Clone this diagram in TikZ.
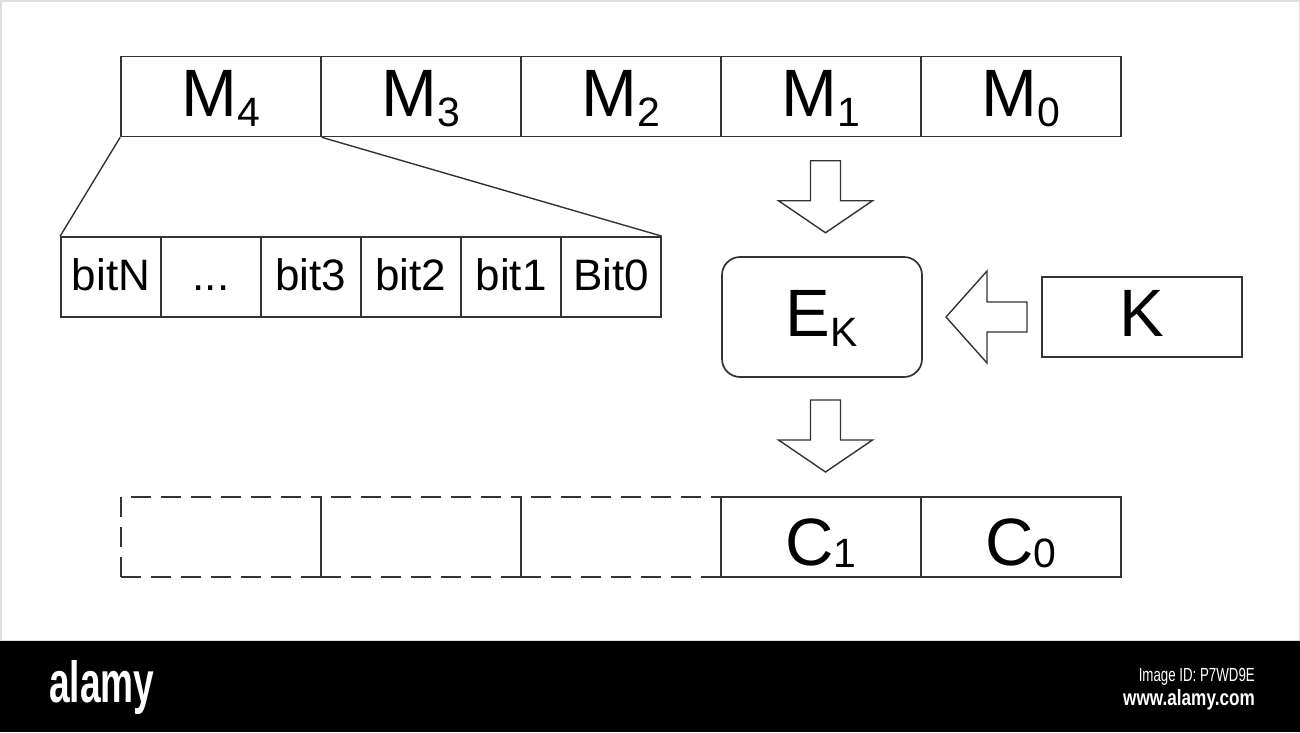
\documentclass[tikz,border=0pt]{standalone}
\usepackage{fontspec}
\setmainfont{Liberation Sans}
\usetikzlibrary{calc}
\definecolor{linecol}{gray}{0.2}
\newcommand{\bigfont}{\fontsize{67}{70}\selectfont}
\newcommand{\subfont}{\fontsize{41}{41}\selectfont}
\newcommand{\bitfont}{\fontsize{44}{46}\selectfont}
\newcommand{\lbl}[3]{#1\raisebox{#3}{\subfont #2}}
\begin{document}
\begin{tikzpicture}[x=1pt,y=-1pt,
  cell/.style={draw=linecol, line width=1.7pt, minimum width=200pt, minimum height=80pt,
    inner sep=0pt, font=\bigfont, text height=48pt, text depth=9pt},
  ccell/.style={cell, text height=58pt, text depth=2pt},
  dcell/.style={cell, dash pattern=on 20pt off 10pt},
  bitcell/.style={draw=linecol, line width=1.7pt, minimum width=100pt, minimum height=80pt,
    inner sep=0pt, font=\bitfont, text height=34pt, text depth=8pt},
  fan/.style={draw=linecol, line width=1.4pt},
  blockarrow/.style={draw=linecol, line width=1.4pt, fill=white, line join=miter},
  wm/.style={text=white, inner sep=0pt}
]
\useasboundingbox (0,0) rectangle (1300,732);
\fill[white] (0,0) rectangle (1300,641);
\draw[gray!25, line width=1.5pt] (0.75,0.75) rectangle (1299.25,641);
\fill[black] (0,641) rectangle (1300,732);

% top row
\node[cell] (M4) at (221,96.5) {\lbl{M}{4}{-10pt}};
\node[cell] (M3) at (421,96.5) {\lbl{M}{3}{-10pt}};
\node[cell] (M2) at (621,96.5) {\lbl{M}{2}{-10pt}};
\node[cell] (M1) at (821,96.5) {\lbl{M}{1}{-10pt}};
\node[cell] (M0) at (1021,96.5) {\lbl{M}{0}{-10pt}};

% bit row
\node[bitcell] (bN) at (111,277) {bitN};
\node[bitcell] (bd) at (211,277) {...};
\node[bitcell] (b3) at (311,277) {bit3};
\node[bitcell] (b2) at (411,277) {bit2};
\node[bitcell] (b1) at (511,277) {bit1};
\node[bitcell] (b0) at (611,277) {Bit0};

\draw[fan] (M4.south west) -- (bN.north west);
\draw[fan] (M4.south east) -- (b0.north east);

% encryption
\node[cell, minimum height=120pt, rounded corners=18pt] (Ek) at (822,317) {\lbl{E}{K}{-10pt}};
\node[cell] (K) at (1142,317) {K};

% bottom row
\node[dcell] (D2) at (221,537) {};
\node[dcell] (D1) at (421,537) {};
\node[dcell] (D0) at (621,537) {};
\node[ccell] (C1) at (821,537) {\lbl{C}{1}{-2pt}};
\node[ccell] (C0) at (1021,537) {\lbl{C}{0}{-2pt}};

% block arrows
\coordinate (a1) at ($(M1.south)!0.5!(Ek.north)+(4,0)$);
\draw[blockarrow] ($(a1)+(-15,-36)$) -- ($(a1)+(15,-36)$) -- ($(a1)+(15,4)$) -- ($(a1)+(47,4)$)
  -- ($(a1)+(0,36)$) -- ($(a1)+(-47,4)$) -- ($(a1)+(-15,4)$) -- cycle;
\coordinate (a2) at ($(Ek.south)!0.5!(C1.north)+(4,0)$);
\draw[blockarrow] ($(a2)+(-15,-37)$) -- ($(a2)+(15,-37)$) -- ($(a2)+(15,3)$) -- ($(a2)+(47,3)$)
  -- ($(a2)+(0,35)$) -- ($(a2)+(-47,3)$) -- ($(a2)+(-15,3)$) -- cycle;
\coordinate (a3) at ($(K.west)!0.5!(Ek.east)$);
\draw[blockarrow] ($(a3)+(45,-15)$) -- ($(a3)+(45,15)$) -- ($(a3)+(5,15)$) -- ($(a3)+(5,46)$)
  -- ($(a3)+(-36,0)$) -- ($(a3)+(5,-46)$) -- ($(a3)+(5,-15)$) -- cycle;

% watermark band
\node[wm, anchor=base west, font=\bfseries\fontsize{58}{58}\selectfont] (logo) at (49,702) {\scalebox{0.64}[1]{alamy}};
\node[wm, anchor=base east, font=\fontsize{19}{19}\selectfont] (imgid) at (1255,681) {\scalebox{0.7}[1]{Image ID: P7WD9E}};
\node[wm, anchor=base east, font=\bfseries\fontsize{22}{22}\selectfont] (www) at (1255,705) {\scalebox{0.78}[1]{www.alamy.com}};
\end{tikzpicture}
\end{document}
